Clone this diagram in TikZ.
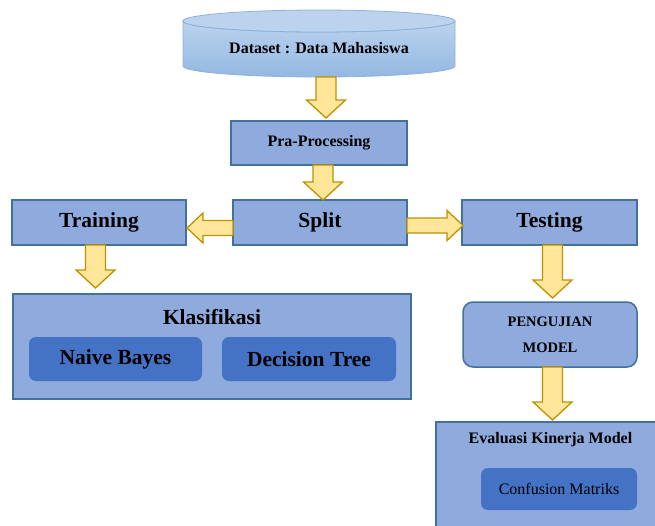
\documentclass[tikz,border=0pt]{standalone}
\usepackage{fontspec}
\setmainfont{Liberation Serif}
\definecolor{boxfill}{HTML}{8FAADC}
\definecolor{boxdraw}{HTML}{41719C}
\definecolor{inner}{HTML}{4472C4}
\definecolor{arrfill}{HTML}{FFE699}
\definecolor{arrdraw}{HTML}{BF9000}
\definecolor{cyltop}{HTML}{BCD3EE}
\definecolor{cylbot}{HTML}{93B8E2}
\definecolor{cyldraw}{HTML}{8DB1DC}
\newcommand\varr[3]{% x centre, y start, y tip
  \draw[blk] ({#1-10},#2) -- ({#1+10},#2) -- ({#1+10},{#3-18}) -- ({#1+19.5},{#3-18})
    -- (#1,#3) -- ({#1-19.5},{#3-18}) -- ({#1-10},{#3-18}) -- cycle;}
\newcommand\harr[4]{% y centre, x start, x tip, direction
  \draw[blk] (#2,{#1-7.5}) -- ({#3-#4*16},{#1-7.5}) -- ({#3-#4*16},{#1-15})
    -- (#3,#1) -- ({#3-#4*16},{#1+15}) -- ({#3-#4*16},{#1+7.5}) -- (#2,{#1+7.5}) -- cycle;}
\begin{document}
\begin{tikzpicture}[x=1pt,y=-1pt,
  box/.style={draw=boxdraw,fill=boxfill,line width=1.5pt,inner sep=0pt},
  rbox/.style={box,rounded corners=10pt},
  innerbox/.style={fill=inner,rounded corners=7pt,inner sep=0pt},
  blk/.style={fill=arrfill,draw=arrdraw,line width=1.3pt,line join=miter},
  fa/.style={font=\fontsize{16}{19}\selectfont\bfseries},
  fb/.style={font=\fontsize{21.5}{25}\selectfont\bfseries},
  fc/.style={font=\fontsize{14.5}{26}\selectfont\bfseries},
  fd/.style={font=\fontsize{16}{19}\selectfont}]
\useasboundingbox (0,0) rectangle (655,525);
\clip (0,0) rectangle (655,525);
% dataset cylinder
\path[top color=cyltop,bottom color=cylbot,draw=cyldraw,line width=0.8pt]
  (183,21) -- (183,66) arc[start angle=180,end angle=0,x radius=136,y radius=11]
  -- (455,21) arc[start angle=0,end angle=180,x radius=136,y radius=11] -- cycle;
\draw[fill=cyltop,draw=cyldraw,line width=0.8pt] (319,21) ellipse[x radius=136,y radius=11];
\node[fa,minimum width=272pt,minimum height=20pt] (ds) at (319,48) {Dataset : Data Mahasiswa};
% boxes
\node[box,fa,minimum width=176pt,minimum height=44pt] (pra) at (319,143) {Pra-Processing};
\node[box,fb,minimum width=174pt,minimum height=45pt] (train) at (99,222.5) {Training};
\node[box,fb,minimum width=174pt,minimum height=45pt] (split) at (320,222.5) {Split};
\node[box,fb,minimum width=175pt,minimum height=45pt] (test) at (549.5,222.5) {Testing};
\node[box,minimum width=398pt,minimum height=105pt] (klas) at (212,346.5) {};
\node[fb] (klast) at (212,317) {Klasifikasi};
\node[innerbox,fb,minimum width=173pt,minimum height=44pt] (nb) at (115.5,359) {Naive Bayes};
\node[innerbox,fb,minimum width=174pt,minimum height=44pt] (dt) at (309,359) {Decision Tree};
\node[rbox,fc,align=center,minimum width=174pt,minimum height=65pt] (peng) at (550,334.5) {PENGUJIAN\\MODEL};
\node[box,anchor=north west,minimum width=240pt,minimum height=120pt] (eval) at (435,421) {};
\node[fa] (evalt) at (550.5,440) {Evaluasi Kinerja Model};
\node[innerbox,fd,minimum width=156pt,minimum height=42pt] (cm) at (559,489) {Confusion Matriks};
% block arrows
\varr{326}{77}{118}
\varr{323}{165}{200}
\harr{228}{233}{187}{-1}
\harr{225.5}{407}{463}{1}
\varr{95.5}{245}{288}
\varr{552.5}{245}{298}
\varr{552.5}{367}{420}
\end{tikzpicture}
\end{document}
